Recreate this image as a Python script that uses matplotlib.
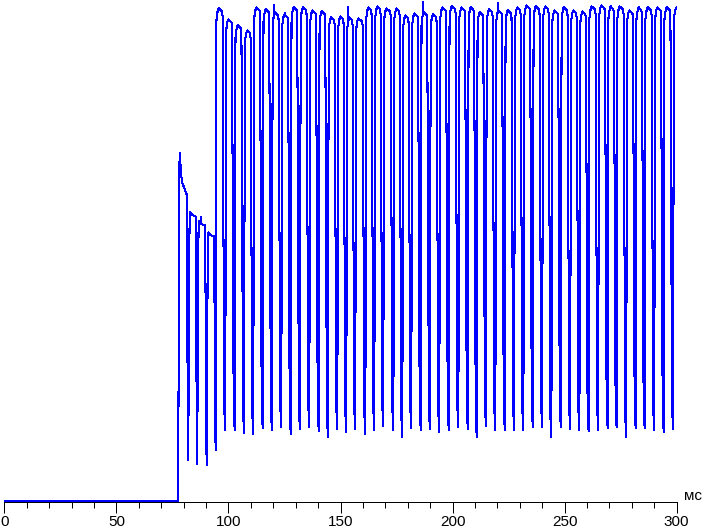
import numpy as np
import matplotlib
matplotlib.use("Agg")
import matplotlib.pyplot as plt

# ---- data (time in ms, level in arbitrary units) ----
trough_ms = [77.6, 82.1, 86.1, 90.3, 94.3, 98.6, 102.8, 107.0, 111.1, 115.3,
             119.4, 123.6, 127.8, 131.9, 136.1, 140.3, 144.4, 148.6, 152.6, 156.6,
             161.1, 165.1, 169.1, 173.6, 177.6, 181.6, 185.8, 189.9, 194.1, 198.3,
             202.6, 206.8, 210.8, 214.9, 219.1, 223.3, 227.5, 231.6, 235.8, 240.0,
             244.1, 248.3, 252.5, 256.6, 260.7, 265.0, 269.2, 273.2, 277.5, 281.7,
             285.7, 290.0, 294.2, 298.4]
trough_level = [1, 42, 38, 37, 52, 72, 72, 69, 68, 74,
                72, 75, 68, 73, 75, 71, 65, 73, 70, 73,
                68, 72, 76, 72, 65, 74, 72, 73, 70, 72,
                75, 73, 65, 76, 72, 72, 72, 72, 75, 75,
                65, 75, 73, 72, 71, 72, 74, 75, 65, 74,
                74, 72, 70, 73]
peak_level = [350, 291, 282, 270, 494, 483, 477, 472, 495, 493,
              490, 488, 495, 495, 492, 491, 485, 486, 485, 484,
              495, 496, 494, 494, 487, 489, 490, 488, 495, 496,
              495, 495, 490, 493, 492, 492, 495, 497, 496, 496,
              492, 495, 492, 491, 496, 497, 496, 496, 492, 495,
              495, 495, 495, 495]
early_end_level = [308, 286, 277, 266]      # decayed tops of the first four pulses
spike_ms = [87.6, 120.5, 125.2, 153.5, 186.9, 220.2]
spike_level = [286, 498, 490, 496, 501, 500]
baseline_level = 1.0
x_ticks = [0, 50, 100, 150, 200, 250, 300]
x_unit = "мс"


def build_trace():
    xs = [0.0]
    ys = [baseline_level]
    n = len(trough_ms)
    for i in range(n):
        t = trough_ms[i]
        L = trough_level[i]
        P = peak_level[i]
        if i + 1 < n:
            per = trough_ms[i + 1] - t
            Ln = trough_level[i + 1]
        else:
            per = 4.16
            Ln = L
        xs.append(t)
        ys.append(L)
        if i < len(early_end_level):
            E = early_end_level[i]
            pts = [(0.25, L + 0.6 * (P - L)), (0.6, P),
                   (1.6, P - 0.7 * (P - E)), (per - 0.75, E),
                   (per - 0.55, E - 0.22 * (E - Ln)),
                   (per - 0.25, Ln + 0.15 * (E - Ln))]
        else:
            pts = [(0.15, L + 0.5 * (P - L)), (0.35, P - 12), (0.8, P - 4),
                   (1.3, P), (per - 1.45, P - 3), (per - 1.2, P - 8),
                   (per - 0.85, Ln + 0.5 * (P - Ln)), (per - 0.45, Ln + 20)]
        for dt, v in pts:
            xs.append(t + dt)
            ys.append(v)
    xs = np.array(xs)
    ys = np.array(ys)
    # add short noise spikes on the plateaus
    for ts, lv in zip(spike_ms, spike_level):
        base = np.interp(ts, xs, ys)
        k = np.searchsorted(xs, ts)
        xs = np.insert(xs, k, [ts - 0.05, ts, ts + 0.05])
        ys = np.insert(ys, k, [base, lv, base])
    return xs, ys


W, H = 703, 530
fig = plt.figure(figsize=(W / 100, H / 100), dpi=100)
x0_px, x1_px, axis_y_px = 4.3, 676.7, 502.3
ax = fig.add_axes([x0_px / W, (H - axis_y_px) / H, (x1_px - x0_px) / W, axis_y_px / H])

xs, ys = build_trace()
ax.plot(xs, ys, color="#0000ff", lw=0.75, antialiased=False, solid_joinstyle="miter")

ax.set_xlim(0, 300)
ax.set_ylim(0, axis_y_px)
for s in ["left", "right", "top"]:
    ax.spines[s].set_visible(False)
ax.spines["bottom"].set_linewidth(0.72)
ax.spines["bottom"].set_color("black")
ax.set_yticks([])
ax.set_xticks(x_ticks)
ax.set_xticks(np.arange(0, 301, 10), minor=True)
ax.tick_params(axis="x", which="major", direction="out", length=8, width=0.72, pad=1,
               labelsize=11, colors="black")
ax.tick_params(axis="x", which="minor", direction="out", length=4.5, width=0.72)
for lab in ax.get_xticklabels():
    lab.set_family("Liberation Sans")
ax.set_facecolor("white")
fig.text(684 / W, (H - 496) / H, x_unit, ha="left", va="center", fontsize=11,
         family="Liberation Sans")
fig.savefig("out.png", dpi=100, facecolor="white")
